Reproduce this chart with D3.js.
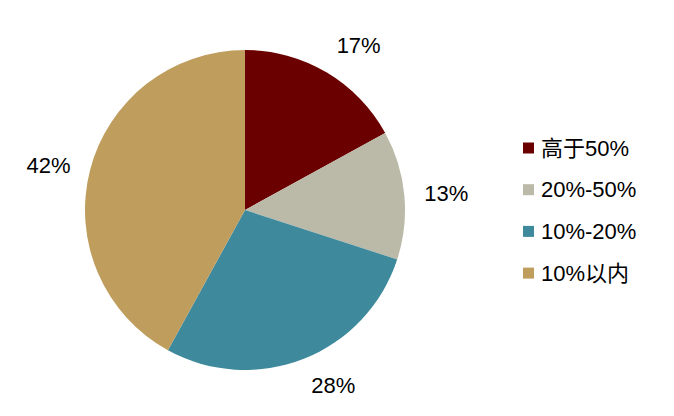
<!DOCTYPE html>
<html><head><meta charset="utf-8">
<script src="https://cdn.jsdelivr.net/npm/d3@7"></script>
<style>body{margin:0;background:#fff}svg{display:block}text{font-family:"Liberation Sans",Arial,"Noto Sans CJK SC",sans-serif;fill:#000}</style>
</head><body>
<svg id="c" width="674" height="416"></svg>
<script>
const categories = ["高于50%", "20%-50%", "10%-20%", "10%以内"];
const values = [17, 13, 28, 42];
const labels = ["17%", "13%", "28%", "42%"];
const colors = ["#6B0000", "#BBB9A8", "#3E8A9C", "#BF9D5D"];

const svg = d3.select("#c");
const cx = 245, cy = 210, r = 160, lr = 180, fs = 22;
const pie = d3.pie().sort(null).value(d => d)(values);
const arc = d3.arc().innerRadius(0).outerRadius(r);
const larc = d3.arc().innerRadius(lr).outerRadius(lr);
const g = svg.append("g").attr("transform", `translate(${cx},${cy})`);
g.selectAll("path").data(pie).join("path").attr("d", arc).attr("fill", (d, i) => colors[i]);

g.selectAll("text.lbl").data(pie).join("text").attr("class", "lbl")
  .style("font-size", fs + "px")
  .each(function (d, i) {
    const [x, y] = larc.centroid(d);
    const a = (d.startAngle + d.endAngle) / 2;
    const s = Math.sin(a), c = Math.cos(a);
    const anchor = s >= 0 ? "start" : "end";
    let dy;
    if (c > 0.7) dy = -0.5 * fs * 0.9;        // label above point
    else if (c < -0.7) dy = 0.5 * fs * 0.7;   // below
    else dy = 0;
    d3.select(this).attr("x", x).attr("y", y + dy).attr("text-anchor", anchor)
      .attr("dominant-baseline", "central").text(labels[i]);
  });

const leg = svg.append("g").attr("transform", "translate(523,148)");
const rows = leg.selectAll("g").data(categories).join("g")
  .attr("transform", (d, i) => `translate(0,${i * 41.7})`);
rows.append("rect").attr("x", 0).attr("y", -5.5).attr("width", 11).attr("height", 11)
  .attr("fill", (d, i) => colors[i]);
rows.append("text").attr("x", 18).attr("y", 0).attr("dominant-baseline", "central")
  .style("font-size", fs + "px").text(d => d);
</script>
</body></html>
